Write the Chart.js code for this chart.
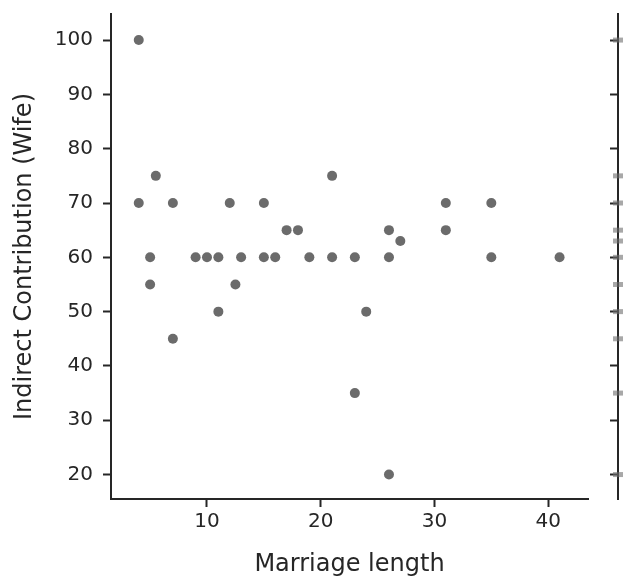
<!DOCTYPE html>
<html>
<head>
<meta charset="utf-8">
<script src="https://cdn.jsdelivr.net/npm/chart.js@4.4.1/dist/chart.umd.min.js"></script>
<style>
  html, body { margin: 0; padding: 0; background: #ffffff; }
  #wrap { position: relative; width: 624px; height: 577px; overflow: hidden; }
  canvas { position: absolute; left: 0; top: 0; }
</style>
</head>
<body>
<div id="wrap">
  <canvas id="main" width="624" height="577"></canvas>
  <canvas id="rug" width="624" height="577"></canvas>
</div>
<script>
// ---- data ----
const marriageLength = [4, 4, 5, 5, 5.5, 7, 7, 9, 10, 11, 11, 12, 12.5, 13, 15, 15, 16, 17, 18, 19, 21, 21, 23, 23, 24, 26, 26, 26, 27, 31, 31, 35, 35, 41];
const indirectWife   = [100, 70, 60, 55, 75, 70, 45, 60, 60, 60, 50, 70, 55, 60, 70, 60, 60, 65, 65, 60, 75, 60, 60, 35, 50, 65, 60, 20, 63, 70, 65, 70, 60, 60];
const xTicks = [10, 20, 30, 40];
const yTicks = [20, 30, 40, 50, 60, 70, 80, 90, 100];
const rugValues = [100, 75, 70, 65, 63, 60, 55, 50, 45, 35, 20];

const FONT = 'DejaVu Sans';
const INK = '#262626';
const X_MIN = 1.56, X_MAX = 43.5;
const Y_MIN = 15.5, Y_MAX = 104.8;

const points = marriageLength.map((x, i) => ({ x: x, y: indirectWife[i] }));

new Chart(document.getElementById('main'), {
  type: 'scatter',
  data: {
    datasets: [{
      data: points,
      backgroundColor: '#6b6b6b',
      borderColor: '#6b6b6b',
      borderWidth: 0,
      pointRadius: 5,
      pointHoverRadius: 5
    }]
  },
  options: {
    responsive: false,
    animation: false,
    events: [],
    layout: { padding: { top: 14, right: 36, left: 13, bottom: 0 } },
    plugins: { legend: { display: false }, tooltip: { enabled: false } },
    scales: {
      x: {
        type: 'linear',
        min: X_MIN, max: X_MAX,
        afterBuildTicks: s => { s.ticks = xTicks.map(v => ({ value: v })); },
        afterFit: s => { s.height = 78; s.paddingLeft = 0; s.paddingRight = 0; },
        grid: { display: true, drawOnChartArea: false, drawTicks: true, tickLength: 8, tickWidth: 2, tickColor: INK },
        border: { display: true, color: INK, width: 2 },
        ticks: { font: { family: FONT, size: 20 }, color: INK, padding: 3, maxRotation: 0 },
        title: { display: true, text: 'Marriage length', font: { family: FONT, size: 24, lineHeight: 1 }, color: INK, padding: { top: 0, bottom: 0 } }
      },
      y: {
        type: 'linear',
        min: Y_MIN, max: Y_MAX,
        afterBuildTicks: s => { s.ticks = yTicks.map(v => ({ value: v })); },
        afterFit: s => { s.width = 98; s.paddingTop = 0; s.paddingBottom = 0; },
        grid: { display: true, drawOnChartArea: false, drawTicks: true, tickLength: 8, tickWidth: 2, tickColor: INK },
        border: { display: true, color: INK, width: 2 },
        ticks: { font: { family: FONT, size: 20 }, color: INK, padding: 10 },
        title: { display: true, text: 'Indirect Contribution (Wife)', font: { family: FONT, size: 24, lineHeight: 1 }, color: INK, padding: { top: 0, bottom: 0 } }
      }
    }
  }
});

new Chart(document.getElementById('rug'), {
  type: 'scatter',
  data: {
    datasets: [{
      data: rugValues.map(v => ({ x: 1, y: v })),
      pointStyle: 'line',
      pointRadius: 5,
      pointHoverRadius: 5,
      borderWidth: 5,
      borderColor: 'rgba(110,110,110,0.6)',
      backgroundColor: 'rgba(110,110,110,0.6)',
      clip: false
    }]
  },
  options: {
    responsive: false,
    animation: false,
    events: [],
    layout: { padding: { top: 14, right: 0, left: 0, bottom: 78 } },
    plugins: { legend: { display: false }, tooltip: { enabled: false } },
    scales: {
      x: { type: 'linear', min: 0, max: 1, display: false },
      y: {
        type: 'linear',
        min: Y_MIN, max: Y_MAX,
        afterBuildTicks: s => { s.ticks = yTicks.map(v => ({ value: v })); },
        afterFit: s => { s.width = 618; s.paddingTop = 0; s.paddingBottom = 0; },
        grid: { display: true, drawOnChartArea: false, drawTicks: true, tickLength: 8, tickWidth: 2, tickColor: INK },
        border: { display: true, color: INK, width: 2 },
        ticks: { display: false }
      }
    }
  }
});
</script>
</body>
</html>
